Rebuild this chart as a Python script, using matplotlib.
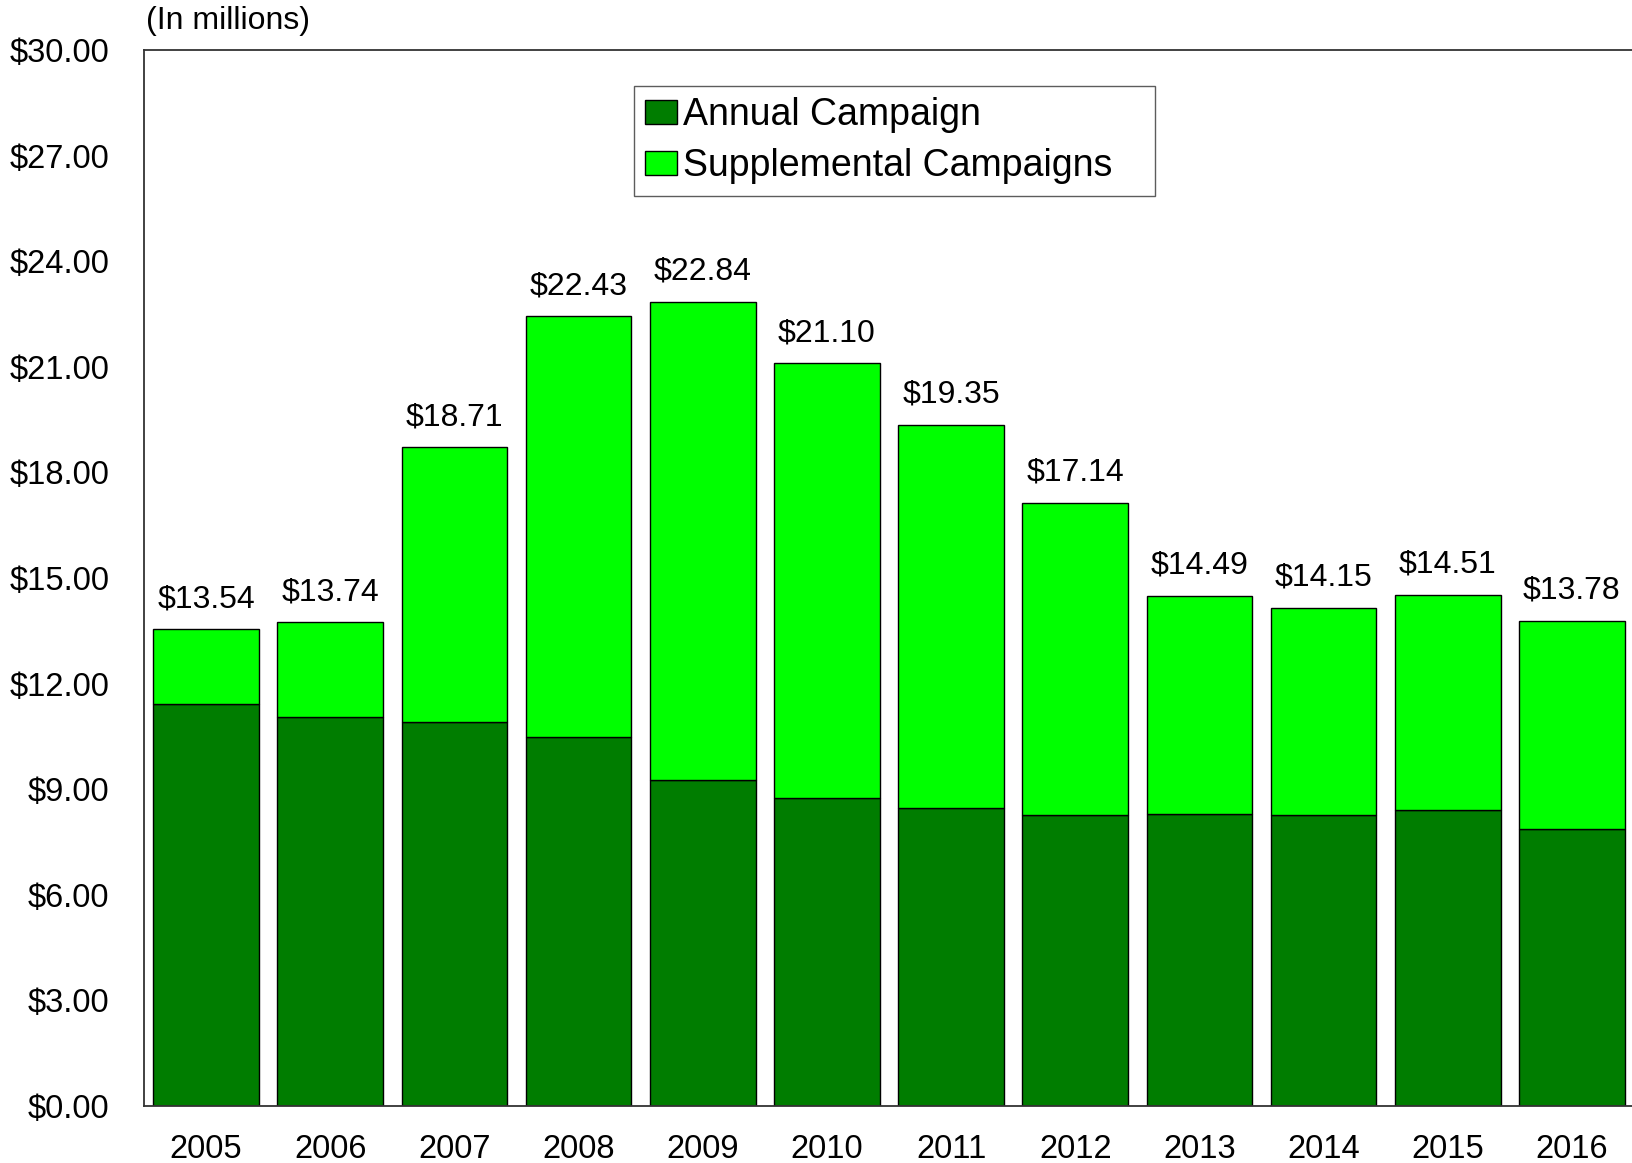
import matplotlib
matplotlib.use("Agg")
import matplotlib.pyplot as plt
from matplotlib.ticker import FuncFormatter

years = ["2005", "2006", "2007", "2008", "2009", "2010", "2011", "2012", "2013", "2014", "2015", "2016"]
totals = [13.54, 13.74, 18.71, 22.43, 22.84, 21.10, 19.35, 17.14, 14.49, 14.15, 14.51, 13.78]
annual = [11.42, 11.06, 10.90, 10.47, 9.27, 8.74, 8.46, 8.27, 8.30, 8.28, 8.42, 7.86]
supplemental = [round(t - a, 2) for t, a in zip(totals, annual)]

plt.rcParams['font.family'] = ['Liberation Sans', 'DejaVu Sans']

W, H = 1633, 1163
fig = plt.figure(figsize=(W / 100, H / 100), dpi=100)
ax = fig.add_axes([144 / W, 1 - 1106 / H, 1490 / W, 1056 / H])

x = list(range(len(years)))
dark = "#007d00"
light = "#00ff00"
ax.bar(x, annual, width=0.85, color=dark, edgecolor="black", linewidth=1.0, label="Annual Campaign")
ax.bar(x, supplemental, bottom=annual, width=0.85, color=light, edgecolor="black", linewidth=1.0,
       label="Supplemental Campaigns   ")

for xi, t in zip(x, totals):
    ax.annotate(f"${t:.2f}", xy=(xi, t), xytext=(0, 11), textcoords="offset points",
                ha="center", va="bottom", fontsize=23)

ax.set_xlim(-0.5, 11.5)
ax.set_ylim(0, 30)
ax.set_yticks([0, 3, 6, 9, 12, 15, 18, 21, 24, 27, 30])
ax.yaxis.set_major_formatter(FuncFormatter(lambda v, p: f"${v:.2f}"))
ax.set_xticks(x)
ax.set_xticklabels(years)
ax.tick_params(axis="both", length=0, labelsize=23.5)
ax.tick_params(axis="y", pad=25)
ax.tick_params(axis="x", pad=20)
for s in ["left", "bottom", "top"]:
    ax.spines[s].set_color("#333333")
    ax.spines[s].set_linewidth(1.3)
ax.spines["right"].set_visible(False)

fig.text(146 / W, 1 - 21 / H, "(In millions)", fontsize=23, ha="left", va="center")

leg = ax.legend(loc="upper left", bbox_to_anchor=((634 - 144) / 1490, (1106 - 86) / 1056),
                fontsize=27, frameon=True, fancybox=False, edgecolor="#333333",
                handlelength=0.85, handleheight=0.6, handletextpad=0.15, borderpad=0.3,
                labelspacing=0.4, borderaxespad=0)
leg.get_frame().set_linewidth(1.0)

fig.savefig("out.png", dpi=100)
